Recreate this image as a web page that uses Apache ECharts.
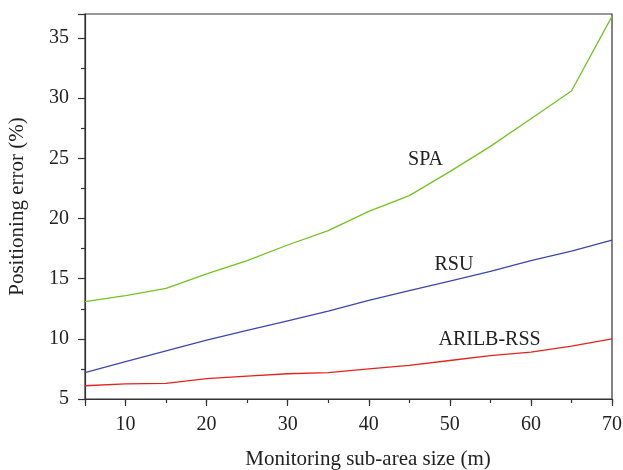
<!DOCTYPE html>
<html><head><meta charset="utf-8">
<script src="https://cdn.jsdelivr.net/npm/echarts@6/dist/echarts.min.js"></script>
<style>html,body{margin:0;padding:0;background:#fff}#c{width:623px;height:470px}</style>
</head><body><div id="c"></div>
<script>
const xValues = [5,10,15,20,25,30,35,40,45,50,55,60,65,70];
const spa = [13.1,13.6,14.2,15.4,16.5,17.8,19.0,20.6,21.9,23.9,26.0,28.3,30.6,36.8];
const rsu = [7.2,8.1,9.0,9.9,10.7,11.5,12.3,13.2,14.0,14.8,15.6,16.5,17.3,18.2];
const arilb = [6.1,6.25,6.3,6.7,6.9,7.1,7.2,7.5,7.8,8.2,8.6,8.9,9.4,10.0];
const seriesNames = ['SPA','RSU','ARILB-RSS'];
const labelPos = [[47.0,24.9],[50.5,16.2],[54.9,9.9]];
const colors = ['#74c320','#3c46b2','#e2241c'];
const xMajorTicks = [5,10,20,30,40,50,60,70];
const xTitle = 'Monitoring sub-area size (m)';
const yTitle = 'Positioning error (%)';

const font = 'Liberation Serif';
const axisColor = '#333';
const allData = [spa, rsu, arilb];
const chart = echarts.init(document.getElementById('c'));
chart.setOption({
  animation:false,
  grid:{left:85,right:11,top:14,bottom:71,show:true,borderColor:axisColor,borderWidth:1.2,
    containLabel:false,outerBoundsMode:'none'},
  xAxis:[{type:'value',min:5,max:70,interval:5,
    name:xTitle,nameLocation:'middle',nameGap:50,
    nameTextStyle:{fontFamily:font,fontSize:21,color:'#222',padding:[0,0,0,39]},
    axisLine:{lineStyle:{color:axisColor,width:1.2}},
    axisTick:{length:4,lineStyle:{color:axisColor,width:1.2}},
    axisLabel:{fontFamily:font,fontSize:20,color:'#222',margin:16,
      formatter:v=> v%10===0?String(v):''},
    splitLine:{show:false}},
   {type:'value',min:5,max:70,position:'bottom',gridIndex:0,
    axisLine:{show:false},
    axisTick:{show:true,length:7,customValues:xMajorTicks,lineStyle:{color:axisColor,width:1.2}},
    axisLabel:{show:false},
    splitLine:{show:false}}],
  yAxis:{type:'value',min:5,max:37,interval:5,
    name:yTitle,nameLocation:'middle',nameGap:57,
    nameTextStyle:{fontFamily:font,fontSize:21,color:'#222'},
    axisLine:{lineStyle:{color:axisColor,width:1.2}},
    axisTick:{length:7,lineStyle:{color:axisColor,width:1.2}},
    minorTick:{show:true,splitNumber:2,length:4,lineStyle:{color:axisColor,width:1.2}},
    axisLabel:{fontFamily:font,fontSize:20,color:'#222',margin:16,
      formatter:v=> v===37?'':String(v)},
    splitLine:{show:false}},
  series: seriesNames.map((n,i)=>({
    name:n,type:'line',symbol:'none',xAxisIndex:0,
    data:xValues.map((x,j)=>[x,allData[i][j]]),
    lineStyle:{color:colors[i],width:1.3},
    markPoint:{symbol:'circle',symbolSize:0,silent:true,
      data:[{coord:labelPos[i],value:n}],
      label:{show:true,position:'inside',formatter:n,fontFamily:font,fontSize:20,color:'#222'}}
  }))
});
</script></body></html>
